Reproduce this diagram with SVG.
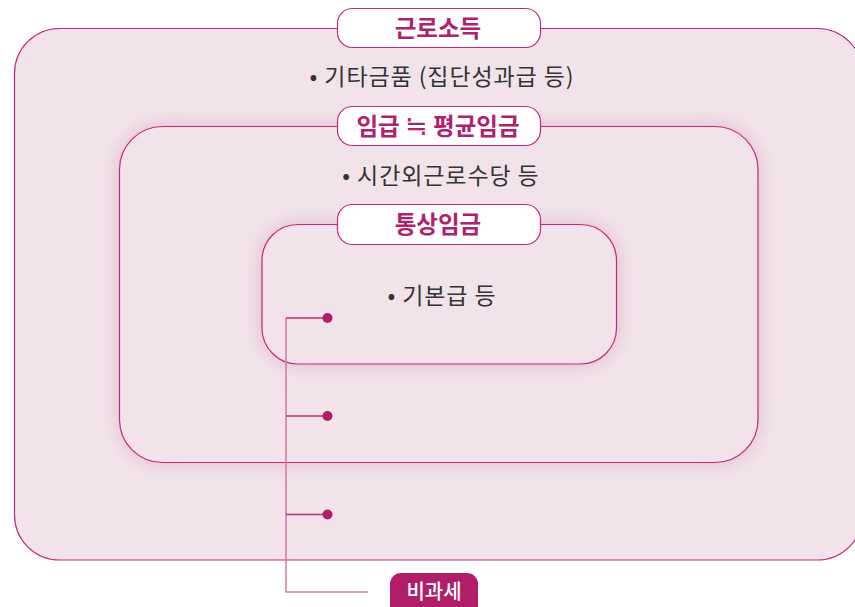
<svg xmlns="http://www.w3.org/2000/svg" width="855" height="607" viewBox="0 0 855 607">
<defs>
<filter id="glow" x="-20%" y="-20%" width="140%" height="140%"><feGaussianBlur stdDeviation="10"/></filter>
<style>
.box{fill:#f2e3ea;stroke:#c4287c;stroke-width:1.2}
.halo{fill:#d9abc2;opacity:0.8;filter:url(#glow)}
.pill{fill:#ffffff;stroke:#c4287c;stroke-width:1.2}
.lbl{font-family:"Noto Sans CJK KR","Noto Sans",sans-serif;font-size:23.5px;font-weight:700;fill:#b0216d;text-anchor:middle}
.txt{font-family:"Noto Sans CJK KR","Noto Sans",sans-serif;font-size:23px;font-weight:400;fill:#333333;text-anchor:middle;letter-spacing:0.9px}
.sym{font-family:"DejaVu Sans",sans-serif;font-weight:400;font-size:27px}
.ln{stroke:#d27aa8;stroke-width:1.5;fill:none}
.br{stroke:#c4287c;stroke-width:1.5;fill:none}
.dot{fill:#b01e6a}
</style>
</defs>
<g id="outer">
<rect class="box" x="14.5" y="28.5" width="848" height="531.5" rx="45"/>
<text class="txt" x="442" y="85">• 기타금품 (집단성과급 등)</text>
</g>
<g id="middle">
<rect class="halo" x="119.5" y="126.5" width="638.5" height="336" rx="43"/>
<rect class="box" x="119.5" y="126.5" width="638.5" height="336" rx="43"/>
<text class="txt" x="441" y="184">• 시간외근로수당 등</text>
</g>
<g id="inner">
<rect class="halo" x="262" y="224.5" width="354.5" height="139.5" rx="36"/>
<rect class="box" x="262" y="224.5" width="354.5" height="139.5" rx="36"/>
<text class="txt" x="442" y="304">• 기본급 등</text>
</g>
<g id="label-income">
<rect class="pill" x="337.5" y="8.5" width="203" height="39" rx="15"/>
<text class="lbl" x="438" y="36.5">근로소득</text>
</g>
<g id="label-wage">
<rect class="pill" x="337.5" y="106.5" width="203" height="39" rx="15"/>
<text class="lbl" x="438" y="134.5">임급 <tspan class="sym">≒</tspan> 평균임금</text>
</g>
<g id="label-ordinary">
<rect class="pill" x="337.5" y="204.5" width="203" height="40" rx="15"/>
<text class="lbl" x="438" y="233">통상임금</text>
</g>
<g id="connectors">
<polyline class="ln" points="286,318 286,592 368,592"/>
<line class="br" x1="286" y1="318" x2="327" y2="318"/>
<line class="br" x1="286" y1="416" x2="327" y2="416"/>
<line class="br" x1="286" y1="514.5" x2="327" y2="514.5"/>
<circle class="dot" cx="327.5" cy="318" r="5"/>
<circle class="dot" cx="327.5" cy="416" r="5"/>
<circle class="dot" cx="327.5" cy="514.5" r="5"/>
</g>
<g id="label-nontax">
<rect x="390" y="573" width="88" height="44" rx="11" fill="#b01e6a"/>
<text x="434" y="599" font-family="'Noto Sans CJK KR','Noto Sans',sans-serif" font-size="20" font-weight="500" fill="#ffffff" text-anchor="middle">비과세</text>
</g>
</svg>
